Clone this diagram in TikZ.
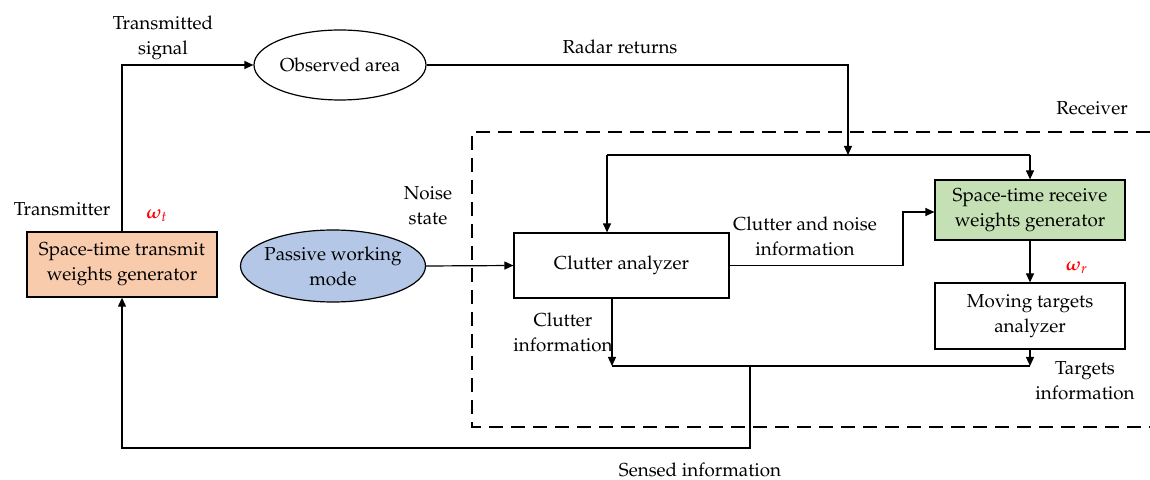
\documentclass[tikz,border=0pt]{standalone}
\usepackage{amsmath}
\usepackage[T1]{fontenc}
\usepackage{mathpazo}
\usetikzlibrary{arrows.meta,shapes.geometric}
\definecolor{peach}{HTML}{F8CBAD}
\definecolor{lblue}{HTML}{B4C7E7}
\definecolor{lgreen}{HTML}{C5E0B4}
\begin{document}
\begin{tikzpicture}[x=0.5pt,y=-0.5pt,
  font=\fontsize{9.4}{12.5}\selectfont,
  line width=0.6pt,
  arr/.style={-{Triangle[length=4.5pt,width=4pt]}},
  box/.style={draw,rectangle,inner sep=0pt,minimum width=95pt,align=center},
  oval/.style={draw,ellipse,inner sep=0pt,align=center},
  lbl/.style={align=center,inner sep=0pt},
  wlab/.style={text=red,inner sep=0pt}]
\useasboundingbox (0,0) rectangle (1150,480);

% receiver frame
\draw[dash pattern=on 7pt off 4pt] (1150,132) -- (472,132) -- (472,427) -- (1150,427);

% nodes
\node[box,fill=peach,minimum height=32.5pt,line width=0.7pt] (tx) at (122,264.5) {Space-time transmit\\weights generator};
\node[oval,minimum width=86pt,minimum height=35pt,inner xsep=-3pt] (obs) at (340,65) {Observed area};
\node[oval,fill=lblue,minimum width=92.5pt,minimum height=36pt,inner xsep=-6pt,inner ysep=-3pt] (pas) at (333,266) {Passive working\\mode};
\node[box,minimum width=107.5pt,minimum height=32.5pt] (ca) at (621.5,265.5) {Clutter analyzer};
\node[box,fill=lgreen,minimum height=30pt] (rx) at (1030,210) {Space-time receive\\weights generator};
\node[box,minimum height=33pt] (mta) at (1030,316) {Moving targets\\analyzer};

% labels
\node[lbl] (l1) at (163,38) {Transmitted\\signal};
\node[lbl] (l2) at (62,209) {Transmitter};
\node[wlab] (l3) at (157,216) {$\boldsymbol{\omega}_t$};
\node[lbl] (l4) at (428,206) {Noise\\state};
\node[lbl] (l5) at (620,47) {Radar returns};
\node[lbl] (l6) at (1092,108) {Receiver};
\node[lbl] (l7) at (805,236) {Clutter and noise\\information};
\node[wlab] (l8) at (1077,268) {$\boldsymbol{\omega}_r$};
\node[lbl] (l9) at (563,332) {Clutter\\information};
\node[lbl] (l10) at (1085,381) {Targets\\information};
\node[lbl] (l11) at (700,470) {Sensed information};

% coordinates
\coordinate (a1) at (122,65);
\coordinate (rr) at (848,65);
\coordinate (j1) at (848,155);
\coordinate (tl) at (607,155);
\coordinate (tr) at (1030,155);
\coordinate (c1) at (903,265.5);
\coordinate (c2) at (903,212);
\coordinate (bl) at (612,366);
\coordinate (br) at (1030,366);
\coordinate (s1) at (750,366);
\coordinate (s2) at (750,448);
\coordinate (s3) at (122,448);

% connectors
\draw[arr] (tx.north) -- (a1) -- (obs.west);
\draw[arr] (obs.east) -- (rr) -- (j1);
\draw (tl) -- (tr);
\draw[arr] (tl) -- (tl |- ca.north);
\draw[arr] (tr) -- (rx.north);
\draw[arr] (pas.east) -- (ca.west);
\draw[arr] (ca.east) -- (c1) -- (c2) -- (c2 -| rx.west);
\draw[arr] (rx.south) -- (mta.north);
\draw[arr] (bl |- ca.south) -- (bl);
\draw[arr] (mta.south) -- (br);
\draw (bl) -- (br);
\draw[arr] (s1) -- (s2) -- (s3) -- (tx.south);
\end{tikzpicture}
\end{document}
